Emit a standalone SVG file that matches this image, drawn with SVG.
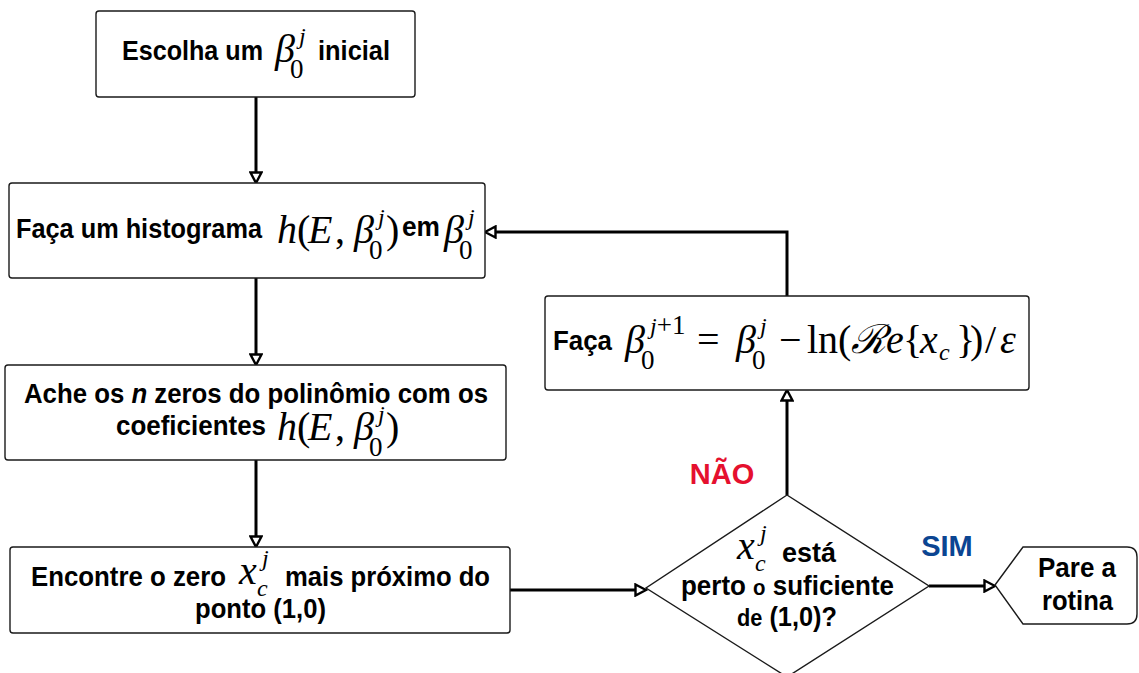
<svg xmlns="http://www.w3.org/2000/svg" width="1139" height="673" viewBox="0 0 1139 673">
  <style>
    .box { fill: #fff; stroke: #1a1a1a; stroke-width: 1.4; }
    .wire { fill: none; stroke: #000; stroke-width: 3; }
    .t { font-family: "Liberation Sans", Arial, sans-serif; font-weight: bold; font-size: 28px; fill: #000; }
    .m { font-family: "Liberation Serif", "Times New Roman", serif; font-style: italic; font-size: 40px; fill: #000; }
    .u { font-family: "Liberation Serif", "Times New Roman", serif; font-style: normal; font-size: 40px; fill: #000; }
    .sp { font-family: "Liberation Serif", "Times New Roman", serif; font-style: italic; font-size: 24px; fill: #000; }
    .sb { font-family: "Liberation Serif", "Times New Roman", serif; font-style: normal; font-size: 27px; fill: #000; }
    .lbl { font-family: "Liberation Sans", Arial, sans-serif; font-weight: bold; font-size: 29px; }
  </style>
  <defs>
    <marker id="arr" viewBox="0 0 14 14" refX="1" refY="7" markerWidth="14" markerHeight="14" orient="auto" markerUnits="userSpaceOnUse">
      <path d="M1.5,1.5 L12,7 L1.5,12.5 Z" fill="#fff" stroke="#000" stroke-width="2.4"/>
    </marker>
  </defs>

  <!-- connectors -->
  <g id="connectors">
    <path class="wire" d="M256,97 V172" marker-end="url(#arr)"/>
    <path class="wire" d="M256,278 V354" marker-end="url(#arr)"/>
    <path class="wire" d="M256,460 V536" marker-end="url(#arr)"/>
    <path class="wire" d="M510,590 H635" marker-end="url(#arr)"/>
    <path class="wire" d="M787,495 V401" marker-end="url(#arr)"/>
    <path class="wire" d="M787,296 V232 H496" marker-end="url(#arr)"/>
    <path class="wire" d="M929,586 H984" marker-end="url(#arr)"/>
  </g>

  <!-- start -->
  <g id="start">
    <rect class="box" x="96" y="11" width="319" height="86" rx="3"/>
    <text class="t" x="122" y="60" textLength="141" lengthAdjust="spacingAndGlyphs">Escolha um</text>
    <text class="m" x="275" y="62">β</text>
    <text class="sp" x="299" y="44">j</text>
    <text class="sb" x="290" y="78">0</text>
    <text class="t" x="318" y="60" textLength="72" lengthAdjust="spacingAndGlyphs">inicial</text>
  </g>

  <!-- histogram -->
  <g id="histogram">
    <rect class="box" x="9" y="183" width="476" height="95" rx="3"/>
    <text class="t" x="16" y="238" textLength="246" lengthAdjust="spacingAndGlyphs">Faça um histograma</text>
    <text class="m" x="277" y="243">h</text>
    <text class="u" x="297" y="243">(</text>
    <text class="m" x="308" y="243">E</text>
    <text class="u" x="335" y="243">,</text>
    <text class="m" x="354" y="243">β</text>
    <text class="sp" x="378" y="225">j</text>
    <text class="sb" x="369" y="259">0</text>
    <text class="u" x="386" y="243">)</text>
    <text class="t" x="402" y="236" font-size="24" textLength="38" lengthAdjust="spacingAndGlyphs">em</text>
    <text class="m" x="444" y="243">β</text>
    <text class="sp" x="468" y="225">j</text>
    <text class="sb" x="459" y="259">0</text>
  </g>

  <!-- roots -->
  <g id="roots">
    <rect class="box" x="5" y="365" width="501" height="95" rx="3"/>
    <text class="t" x="24" y="403" textLength="464" lengthAdjust="spacingAndGlyphs">Ache os <tspan font-style="italic">n</tspan> zeros do polinômio com os</text>
    <text class="t" x="116" y="435" textLength="150" lengthAdjust="spacingAndGlyphs">coeficientes</text>
    <text class="m" x="277" y="440">h</text>
    <text class="u" x="297" y="440">(</text>
    <text class="m" x="308" y="440">E</text>
    <text class="u" x="335" y="440">,</text>
    <text class="m" x="354" y="440">β</text>
    <text class="sp" x="378" y="422">j</text>
    <text class="sb" x="369" y="456">0</text>
    <text class="u" x="386" y="440">)</text>
  </g>

  <!-- nearest zero -->
  <g id="nearest">
    <rect class="box" x="10" y="547" width="500" height="86" rx="3"/>
    <text class="t" x="31" y="586" textLength="195" lengthAdjust="spacingAndGlyphs">Encontre o zero</text>
    <text class="m" x="239" y="584">x</text>
    <text class="sp" x="262" y="566">j</text>
    <text class="sp" x="257" y="596">c</text>
    <text class="t" x="285" y="586" textLength="205" lengthAdjust="spacingAndGlyphs">mais próximo do</text>
    <text class="t" x="195" y="618" textLength="131" lengthAdjust="spacingAndGlyphs">ponto (1,0)</text>
  </g>

  <!-- update step -->
  <g id="update">
    <rect class="box" x="545" y="296" width="484" height="94" rx="3"/>
    <text class="t" x="553" y="350" textLength="59" lengthAdjust="spacingAndGlyphs">Faça</text>
    <text class="m" x="625" y="353">β</text>
    <text class="sp" x="650" y="334">j<tspan class="sb" font-size="26">+1</tspan></text>
    <text class="sb" x="641" y="369">0</text>
    <text class="u" x="697" y="353">=</text>
    <text class="m" x="736" y="353">β</text>
    <text class="sp" x="760" y="334">j</text>
    <text class="sb" x="752" y="369">0</text>
    <text class="u" x="779" y="353">−</text>
    <text class="u" x="807" y="353" font-size="38">ln(</text>
    <text class="m" x="851" y="353" font-family="'DejaVu Serif', 'Liberation Serif', serif" font-size="31">ℛ</text>
    <text class="m" x="886" y="353">e</text>
    <text class="u" x="903" y="353">{</text>
    <text class="m" x="920" y="353">x</text>
    <text class="sp" x="939" y="360">c</text>
    <text class="u" x="956" y="353">}</text>
    <text class="u" x="970" y="353">)</text>
    <text class="u" x="985" y="353" font-size="34">/</text>
    <text class="m" x="1000" y="353">ε</text>
  </g>

  <!-- decision -->
  <g id="decision">
    <path class="box" d="M787,495 L929,586 L787,677 L646,588 Z"/>
    <text class="m" x="737" y="559">x</text>
    <text class="sp" x="760" y="541">j</text>
    <text class="sp" x="755" y="571">c</text>
    <text class="t" x="782" y="562" textLength="54" lengthAdjust="spacingAndGlyphs">está</text>
    <text class="t" x="681" y="595" textLength="213" lengthAdjust="spacingAndGlyphs">perto <tspan font-size="22">o</tspan> suficiente</text>
    <text class="t" x="737" y="626" textLength="100" lengthAdjust="spacingAndGlyphs"><tspan font-size="24">de</tspan> (1,0)?</text>
  </g>

  <!-- stop -->
  <g id="stop">
    <path class="box" d="M995,585 L1023,547 L1127,547 Q1137,547 1137,557 L1137,614 Q1137,624 1127,624 L1023,624 Z"/>
    <text class="t" x="1038" y="577" textLength="78" lengthAdjust="spacingAndGlyphs">Pare a</text>
    <text class="t" x="1042" y="610" textLength="71" lengthAdjust="spacingAndGlyphs">rotina</text>
  </g>

  <!-- branch labels -->
  <g id="labels">
    <text class="lbl" x="722" y="484" text-anchor="middle" fill="#e5102e">NÃO</text>
    <text class="lbl" x="947" y="556" text-anchor="middle" fill="#0b4592">SIM</text>
  </g>
</svg>
